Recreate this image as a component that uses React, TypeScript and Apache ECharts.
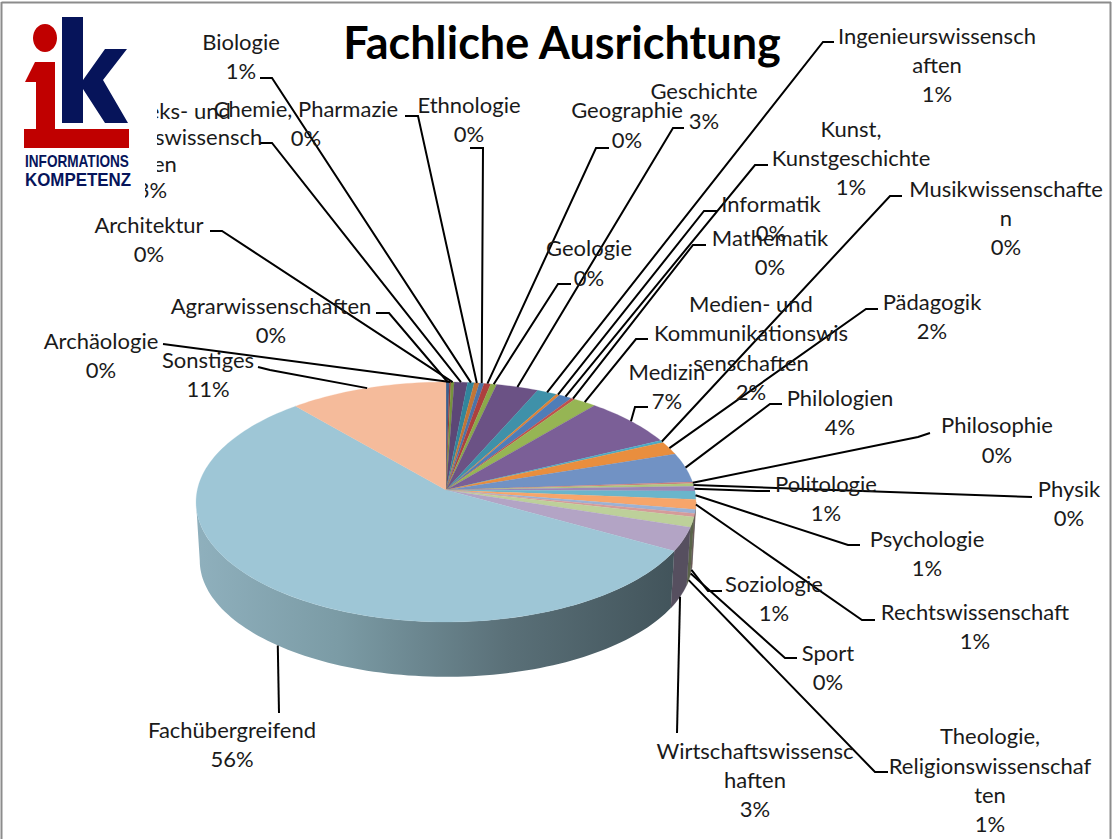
import React, { useEffect, useRef } from "react";
import * as echarts from "echarts";

const categories = [
  "Agrarwissenschaften", "Archäologie", "Architektur", "Bibliotheks- und Informationswissenschaften",
  "Biologie", "Chemie, Pharmazie", "Ethnologie", "Geographie", "Geologie", "Geschichte",
  "Ingenieurswissenschaften", "Informatik", "Kunst, Kunstgeschichte", "Mathematik",
  "Medien- und Kommunikationswissenschaften", "Medizin", "Musikwissenschaften", "Pädagogik",
  "Philologien", "Philosophie", "Physik", "Politologie", "Psychologie", "Rechtswissenschaft",
  "Soziologie", "Sport", "Theologie, Religionswissenschaften", "Wirtschaftswissenschaften",
  "Fachübergreifend", "Sonstiges",
];
const values = [
  0.23, 0.12, 0.23, 0.94, 0.47, 0.36, 0.33, 0.48, 0.42, 3.0,
  1.42, 0.25, 0.92, 0.28, 1.64, 6.72, 0.31, 1.78, 3.97, 0.22,
  0.36, 0.64, 1.11, 1.33, 0.53, 0.45, 1.36, 3.17, 55.5, 11.25,
];
const percentLabels = [
  "0%", "0%", "0%", "3%", "1%", "0%", "0%", "0%", "0%", "3%",
  "1%", "0%", "1%", "0%", "2%", "7%", "0%", "2%", "4%", "0%",
  "0%", "1%", "1%", "1%", "1%", "0%", "1%", "3%", "56%", "11%",
];
const wrappedNames = [
  ["Agrarwissenschaften"], ["Archäologie"], ["Architektur"], ["Bibliotheks- und", "Informationswissensch", "aften"],
  ["Biologie"], ["Chemie, Pharmazie"], ["Ethnologie"], ["Geographie"], ["Geologie"], ["Geschichte"],
  ["Ingenieurswissensch", "aften"], ["Informatik"], ["Kunst,", "Kunstgeschichte"], ["Mathematik"],
  ["Medien- und", "Kommunikationswis", "senschaften"], ["Medizin"], ["Musikwissenschafte", "n"], ["Pädagogik"],
  ["Philologien"], ["Philosophie"], ["Physik"], ["Politologie"], ["Psychologie"], ["Rechtswissenschaft"],
  ["Soziologie"], ["Sport"], ["Theologie,", "Religionswissenschaf", "ten"], ["Wirtschaftswissensc", "haften"],
  ["Fachübergreifend"], ["Sonstiges"],
];
const sliceColors = [
  "#3a5f8f", "#953735", "#77933c", "#5c4776", "#31859c", "#c27535",
  "#4a74a8", "#ad403e", "#8aa94a", "#6b5285", "#3f91a9", "#dc8238",
  "#4f7db8", "#c0504d", "#96b554", "#7b5f97", "#4bacc6", "#e98e3e",
  "#7192c4", "#cd7e7b", "#afc77e", "#9c87b6", "#6ab5cb", "#f7a56a",
  "#9bb2d5", "#d59b9a", "#bdd09a", "#b3a4c5", "#9ec6d6", "#f5bb9b",
];

// label box: centre x, centre y of first line, line height; leader: stub start, stub end
const labelLayout: number[][] = [
  [271, 305, 29, 376, 313, 389, 313],
  [101, 340, 29, 163, 344, 163, 344],
  [149, 224, 29, 210, 231, 222, 231],
  [152, 110, 26.5, 260, 143, 272, 143],
  [241, 41, 29, 260, 78, 272, 78],
  [306, 108, 29, 405, 116, 418, 116],
  [469, 104, 29, 470, 148, 483, 148],
  [627, 109, 30, 609, 148, 596, 148],
  [589, 247, 30, 571, 284, 558, 284],
  [704, 90, 30, 684, 128, 673, 128],
  [937, 35, 29, 834, 42, 823, 42],
  [771, 203, 29, 717, 211, 704, 211],
  [851, 128, 29, 768, 165, 755, 165],
  [770, 237, 29, 706, 245, 693, 245],
  [751, 303, 29.5, 648, 339, 636, 339],
  [667, 371, 29, 648, 407, 635, 407],
  [1006, 188, 29, 902, 196, 890, 196],
  [932, 301, 29, 878, 309, 866, 309],
  [840, 397, 29, 782, 404, 770, 404],
  [997, 424, 30, 930, 433, 918, 437],
  [1069, 488, 29, 1032, 497, 1032, 497],
  [826, 483, 29, 770, 491, 757, 491],
  [927, 538, 29, 860, 545, 848, 545],
  [975, 611, 29, 875, 620, 862, 620],
  [774, 583, 29, 722, 591, 708, 591],
  [828, 652, 29, 797, 658, 785, 658],
  [990, 736, 29.3, 888, 772, 875, 772],
  [755, 750, 29, 677, 733, 677, 733],
  [232, 729, 29, 279, 713, 279, 713],
  [208, 359, 29, 258, 367, 270, 370],
];

// projection of the tilted pie (top face and bottom rim)
const CX = 446;
const K = 0.1;
const TOP = { y: 490, q: 248.7, p: 118.8 };
const BOTTOM = { y: 549, q: 245, p: 115 };
const RIGHT_EDGE = (Math.acos(-K) * 180) / Math.PI;
const LEFT_EDGE = 360 - RIGHT_EDGE;

const project = (deg: number, plane: { y: number; q: number; p: number }) => {
  const t = (deg * Math.PI) / 180;
  const s = Math.sin(t);
  const c = Math.cos(t);
  const w = 1 + K * c;
  return [CX + (plane.q * s) / w, plane.y - (plane.p * c) / w];
};

const total = values.reduce((a, b) => a + b, 0);
const startAngles: number[] = [];
values.reduce((acc, v, i) => {
  startAngles[i] = acc;
  return acc + (v / total) * 360;
}, 0);
const sweep = (i: number) => (values[i] / total) * 360;

const arcPoints = (a: number, b: number, plane: any) => {
  const n = Math.max(2, Math.ceil(Math.abs(b - a) / 1.5));
  const pts: number[][] = [];
  for (let j = 0; j <= n; j++) pts.push(project(a + ((b - a) * j) / n, plane));
  return pts;
};

const darken = (hex: string, f: number) => {
  const n = parseInt(hex.slice(1), 16);
  const ch = [(n >> 16) & 255, (n >> 8) & 255, n & 255].map((v) => Math.round(v * f));
  return `rgb(${ch[0]},${ch[1]},${ch[2]})`;
};

const labelFont = "22px Lato, sans-serif";

export default function App() {
  const ref = useRef<HTMLDivElement>(null);
  useEffect(() => {
    document.body.style.margin = "0";
    document.body.style.overflow = "hidden";
    const chart = echarts.init(ref.current!, null, { renderer: "svg" });

    const seriesData = values.map((v, i) => ({ name: categories[i], value: [i, v] }));

    const leaders = values.map((_, i) => {
      const mid = startAngles[i] + sweep(i) / 2;
      const onBottom = mid > 100 && mid < 260;
      const end = project(mid, onBottom ? BOTTOM : TOP);
      const l = labelLayout[i];
      return {
        type: "polyline",
        z: 5,
        silent: true,
        shape: { points: [[l[3], l[4]], [l[5], l[6]], end] },
        style: { stroke: "#000", lineWidth: 2, fill: "none" },
      };
    });

    const labels = values.map((_, i) => {
      const l = labelLayout[i];
      const text = [...wrappedNames[i], percentLabels[i]].join("\n");
      return {
        type: "text",
        z: 6,
        silent: true,
        x: l[0],
        y: l[1] - l[2] / 2,
        style: {
          text,
          font: labelFont,
          lineHeight: l[2],
          align: "center",
          verticalAlign: "top",
          fill: "#1a1a1a",
        },
      };
    });

    const navy = "#06145a";
    const red = "#c00000";
    const logo = [
      { type: "rect", z: 20, shape: { x: 3, y: 3, width: 154, height: 172 }, style: { fill: "#fff" } },
      { type: "rect", z: 20, shape: { x: 3, y: 170, width: 142, height: 30 }, style: { fill: "#fff" } },
      { type: "ellipse", z: 21, shape: { cx: 45, cy: 38, rx: 12, ry: 14 }, style: { fill: red } },
      {
        type: "polygon", z: 21,
        shape: { points: [[25, 82], [35, 62], [55, 62], [55, 129], [129, 129], [129, 148], [24, 148], [24, 129], [36, 129], [36, 82]] },
        style: { fill: red },
      },
      { type: "rect", z: 21, shape: { x: 62, y: 17, width: 21, height: 106 }, style: { fill: navy } },
      {
        type: "polygon", z: 21,
        shape: { points: [[83, 80], [105, 49], [127, 49], [103, 80], [128, 123], [105, 123], [83, 89]] },
        style: { fill: navy },
      },
      { type: "text", z: 21, x: 25, y: 162, scaleX: 0.85, style: { text: "INFORMATIONS", font: "bold 16px 'Liberation Sans', sans-serif", fill: navy, align: "left", verticalAlign: "middle" } },
      { type: "text", z: 21, x: 25, y: 180, scaleX: 0.89, style: { text: "KOMPETENZ", font: "bold 19px 'Liberation Sans', sans-serif", fill: navy, align: "left", verticalAlign: "middle" } },
    ];

    const frame = [
      { type: "line", z: 30, shape: { x1: 1.5, y1: 2.5, x2: 1111, y2: 2.5 }, style: { stroke: "#8c8c8c", lineWidth: 2 } },
      { type: "line", z: 30, shape: { x1: 1.5, y1: 2, x2: 1.5, y2: 839 }, style: { stroke: "#8c8c8c", lineWidth: 2 } },
      { type: "line", z: 30, shape: { x1: 1110.5, y1: 2, x2: 1110.5, y2: 839 }, style: { stroke: "#8c8c8c", lineWidth: 2 } },
    ];

    chart.setOption({
      animation: false,
      backgroundColor: "#fff",
      title: {
        text: "Fachliche Ausrichtung",
        left: 557,
        top: 14,
        textAlign: "center",
        textStyle: { fontFamily: "Lato, sans-serif", fontWeight: "bold", fontSize: 45, color: "#000" },
      },
      series: [
        {
          type: "custom",
          name: "Seitenwand",
          coordinateSystem: "none",
          silent: true,
          z: 1,
          data: seriesData,
          renderItem: (_: any, api: any) => {
            const i = api.value(0);
            const a = Math.max(startAngles[i], RIGHT_EDGE);
            const b = Math.min(startAngles[i] + sweep(i), LEFT_EDGE);
            if (b <= a) return { type: "group", children: [] };
            const pts = [...arcPoints(a, b, TOP), ...arcPoints(b, a, BOTTOM)];
            const isMain = categories[i] === "Fachübergreifend";
            const fill = isMain
              ? new echarts.graphic.LinearGradient(1, 0, 0, 0, [
                  { offset: 0, color: "#42545b" },
                  { offset: 0.35, color: "#5a7078" },
                  { offset: 0.7, color: "#7b9ba5" },
                  { offset: 1, color: "#8fb0bd" },
                ])
              : darken(sliceColors[i], 0.48);
            return { type: "polygon", shape: { points: pts }, style: { fill, stroke: fill, lineWidth: isMain ? 0 : 0.3 } };
          },
        },
        {
          type: "custom",
          name: "Fachliche Ausrichtung",
          coordinateSystem: "none",
          silent: true,
          z: 2,
          data: seriesData,
          renderItem: (_: any, api: any) => {
            const i = api.value(0);
            const pts = [project(0, { y: TOP.y, q: 0, p: 0 }), ...arcPoints(startAngles[i], startAngles[i] + sweep(i), TOP)];
            return { type: "polygon", shape: { points: pts }, style: { fill: sliceColors[i], stroke: sliceColors[i], lineWidth: 0.25 } };
          },
        },
      ],
      graphic: { elements: [...leaders, ...labels, ...logo, ...frame] },
    });
    return () => chart.dispose();
  }, []);
  return <div ref={ref} style={{ width: 1112, height: 839 }} />;
}
